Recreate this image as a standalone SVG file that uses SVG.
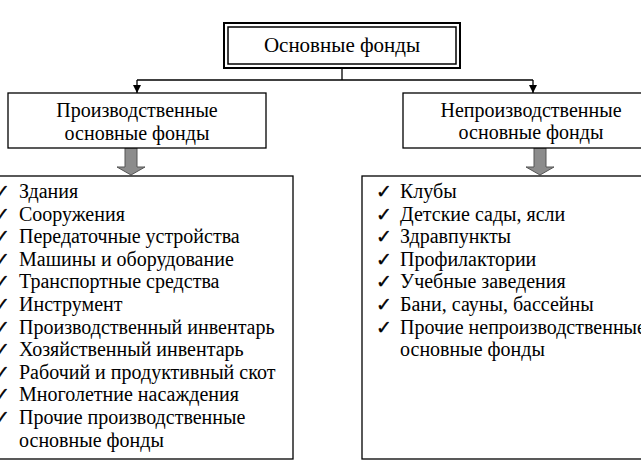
<svg xmlns="http://www.w3.org/2000/svg" width="641" height="465" viewBox="0 0 641 465">
<defs>
<style>
.box{fill:#fff;stroke:#000;stroke-width:1.3}
.t{font-family:"Liberation Serif","Times New Roman",serif;font-size:20px;fill:#000}
.c{text-anchor:middle}
.chk{font-family:"DejaVu Sans",sans-serif;font-size:19px;fill:#000;stroke:#000;stroke-width:0.4}
.ln{fill:none;stroke:#000;stroke-width:1.3}
.big{fill:#8c8c8c;stroke:#555;stroke-width:1}
</style>
<marker id="ah" viewBox="0 0 10 10" refX="10" refY="5" markerWidth="8" markerHeight="8" markerUnits="userSpaceOnUse" orient="auto">
<path d="M0,0 L10,5 L0,10 z" fill="#000"/>
</marker>
</defs>
<rect width="641" height="465" fill="#fff"/>
<g id="connectors">
<path class="ln" d="M342,68 V80"/>
<path class="ln" d="M137,80 H533"/>
<path class="ln" d="M137,80 V93" marker-end="url(#ah)"/>
<path class="ln" d="M533,80 V93" marker-end="url(#ah)"/>
<path class="big" d="M125,148 H137 V167 H145 L131,175 L117,167 H125 Z"/>
<path class="big" d="M534,148 H546 V167 H554 L540,175 L526,167 H534 Z"/>
</g>
<g id="root">
<rect x="224" y="23" width="236" height="45" fill="#fff" stroke="#000" stroke-width="2"/>
<rect x="228" y="27" width="228" height="37" fill="none" stroke="#000" stroke-width="1.5"/>
<text class="t c" x="342" y="52" style="font-size:21px">Основные фонды</text>
</g>
<g id="prod">
<rect class="box" x="8" y="93" width="258" height="55"/>
<text class="t c" x="137" y="117">Производственные</text>
<text class="t c" x="137" y="140">основные фонды</text>
</g>
<g id="nonprod">
<rect class="box" x="403" y="93" width="260" height="55"/>
<text class="t c" x="531" y="117">Непроизводственные</text>
<text class="t c" x="531" y="139">основные фонды</text>
</g>
<g id="prod-list">
<rect class="box" x="-2" y="176" width="295" height="283"/>
<g class="chk">
<text x="-6" y="198">✓</text>
<text x="-6" y="220.6">✓</text>
<text x="-6" y="243.2">✓</text>
<text x="-6" y="265.8">✓</text>
<text x="-6" y="288.4">✓</text>
<text x="-6" y="311">✓</text>
<text x="-6" y="333.6">✓</text>
<text x="-6" y="356.2">✓</text>
<text x="-6" y="378.8">✓</text>
<text x="-6" y="401.4">✓</text>
<text x="-6" y="424">✓</text>
</g>
<g class="t">
<text x="19" y="198">Здания</text>
<text x="19" y="220.6">Сооружения</text>
<text x="19" y="243.2">Передаточные устройства</text>
<text x="19" y="265.8">Машины и оборудование</text>
<text x="19" y="288.4">Транспортные средства</text>
<text x="19" y="311">Инструмент</text>
<text x="19" y="333.6">Производственный инвентарь</text>
<text x="19" y="356.2">Хозяйственный инвентарь</text>
<text x="19" y="378.8">Рабочий и продуктивный скот</text>
<text x="19" y="401.4">Многолетние насаждения</text>
<text x="19" y="424">Прочие производственные</text>
<text x="19" y="446.6">основные фонды</text>
</g>
</g>
<g id="nonprod-list">
<rect class="box" x="362" y="176" width="300" height="283"/>
<g class="chk">
<text x="376" y="198">✓</text>
<text x="376" y="220.6">✓</text>
<text x="376" y="243.2">✓</text>
<text x="376" y="265.8">✓</text>
<text x="376" y="288.4">✓</text>
<text x="376" y="311">✓</text>
<text x="376" y="333.6">✓</text>
</g>
<g class="t">
<text x="400" y="198">Клубы</text>
<text x="400" y="220.6">Детские сады, ясли</text>
<text x="400" y="243.2">Здравпункты</text>
<text x="400" y="265.8">Профилактории</text>
<text x="400" y="288.4">Учебные заведения</text>
<text x="400" y="311">Бани, сауны, бассейны</text>
<text x="400" y="333.6">Прочие непроизводственные</text>
<text x="400" y="356.2">основные фонды</text>
</g>
</g>
</svg>
